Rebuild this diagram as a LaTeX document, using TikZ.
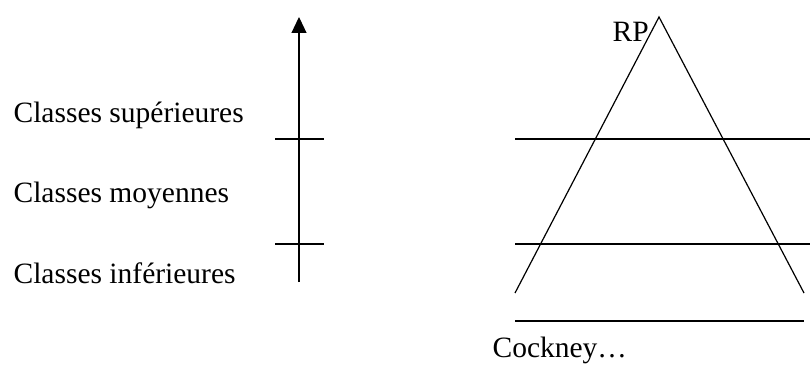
\documentclass[tikz,border=0pt]{standalone}
\usepackage{fontspec}
\setmainfont{Liberation Serif}
\usepackage{tikz}
\usetikzlibrary{arrows.meta}

\begin{document}
\begin{tikzpicture}[
    x=1pt, y=-1pt,
    >={Triangle[length=16pt, width=15pt]},
    line width=1.2pt,
    classtext/.style={anchor=base west, inner sep=0pt, font=\fontsize{29.5}{34}\selectfont}
]
\useasboundingbox (0,0) rectangle (810,371);

% Social scale axis
\coordinate (axbot) at (299,282);
\coordinate (axtop) at (299,17);
\draw[->] (axbot) -- (axtop);
\foreach \y/\n in {139/upper, 244/lower} {
    \coordinate (tick-\n-l) at (275,\y);
    \coordinate (tick-\n-r) at (324,\y);
    \draw (tick-\n-l) -- (tick-\n-r);
}

% Class labels
\node[classtext] (sup) at (13,123) {Classes supérieures};
\node[classtext] (moy) at (13,203) {Classes moyennes};
\node[classtext] (inf) at (13,283) {Classes inférieures};

% Accent triangle
\coordinate (rp) at (659,17);
\coordinate (bl) at (515,293);
\coordinate (br) at (804,293);
\draw (bl) -- (rp) -- (br);
\node[classtext] (rplabel) at (612,42) {RP};

% Class boundaries
\foreach \y/\n in {139/upper, 244/lower} {
    \coordinate (band-\n-l) at (515,\y);
    \coordinate (band-\n-r) at (810,\y);
    \draw (band-\n-l) -- (band-\n-r);
}

% Base line
\coordinate (base-l) at (515,321);
\coordinate (base-r) at (804,321);
\draw (base-l) -- (base-r);
\node[classtext] (cockney) at (492,357) {Cockney…};

\end{tikzpicture}
\end{document}
